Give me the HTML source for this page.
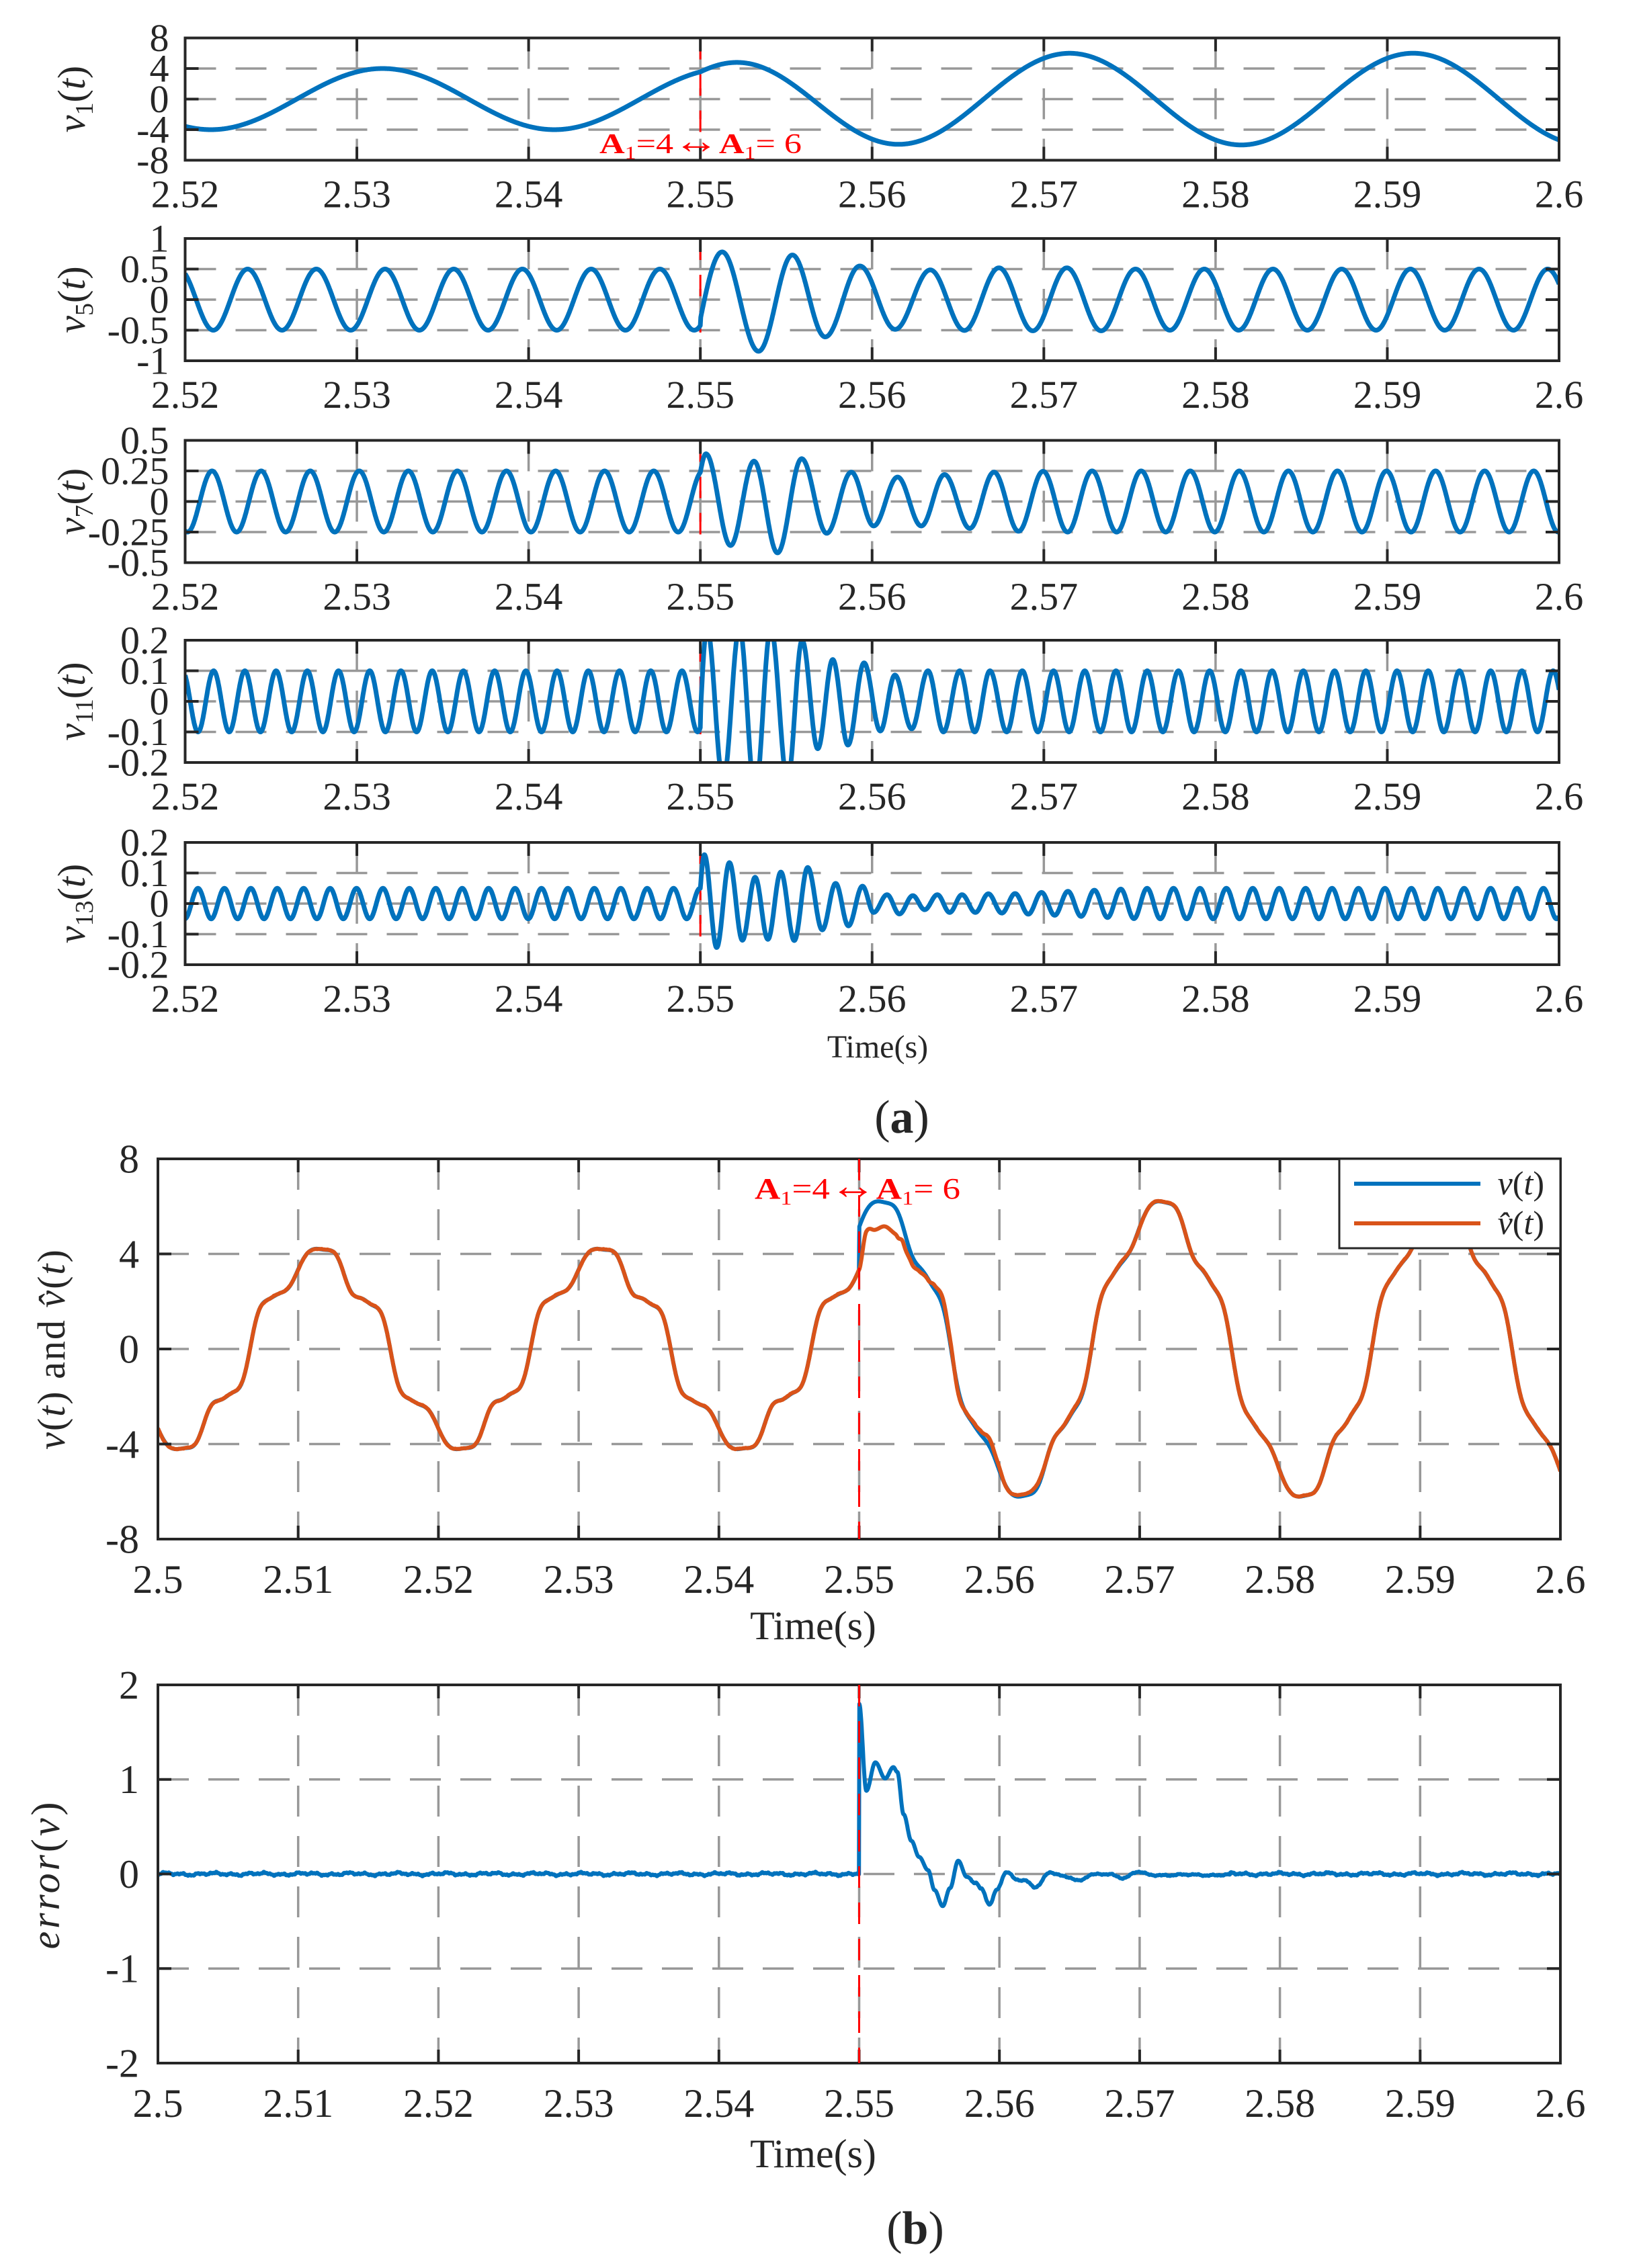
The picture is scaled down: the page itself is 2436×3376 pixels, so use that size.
<!DOCTYPE html>
<html><head><meta charset="utf-8">
<style>
html,body{margin:0;padding:0;background:#fff;}
svg{display:block;}
text{font-family:"Liberation Serif",serif;fill:#262626;}
</style></head>
<body>
<svg id="s" xmlns="http://www.w3.org/2000/svg" width="2436" height="3376" viewBox="0 0 2436 3376">
<rect width="2436" height="3376" fill="#fff"/>
<g id="g"></g>
</svg>
<script>
const NS="http://www.w3.org/2000/svg";
const G=document.getElementById('g');
function el(tag,attrs,parent,txt){const e=document.createElementNS(NS,tag);for(const k in attrs)e.setAttribute(k,attrs[k]);if(txt!==undefined)e.textContent=txt;(parent||G).appendChild(e);return e;}
const TP=2*Math.PI;
const v1b=t=>4*Math.cos(TP*50*(t-2.5315));
const v5b=t=>-0.5*Math.cos(TP*250*(t-2.52164));
const v7b=t=>-0.25*Math.cos(TP*350*(t-2.52014));
const v11b=t=>-0.1*Math.cos(TP*550*(t-2.52075));
const v13b=t=>-0.05*Math.cos(TP*650*(t-2.54921));
function mk(base,pts,conv,f,Afin,ramp){
  const L=pts.map(p=>[conv(p[0]),p[1]]);
  const t0=L[0][0],tl=L[L.length-1][0],vl=L[L.length-1][1];
  return t=>{
    if(t<t0)return base(t);
    if(t<=tl){
      for(let i=0;i<L.length-1;i++){
        if(t<=L[i+1][0]){const a=L[i],b=L[i+1];const s=(t-a[0])/(b[0]-a[0]);
          if(i===0)return a[1]+(b[1]-a[1])*Math.sin(Math.PI*s/2);
          return a[1]+(b[1]-a[1])*(1-Math.cos(Math.PI*s))/2;}
      }
    }
    const u=Math.min(1,(t-tl)/ramp);
    const A=Math.abs(vl)+(Afin-Math.abs(vl))*u;
    return Math.sign(vl)*A*Math.cos(TP*f*(t-tl));
  };
}
const c4=ox=>2.55+(ox-130)/76800;
const c5=ox=>2.55+(ox-113)/67000;
const c6=ox=>2.55+(ox-127)/54500;
const v1e=t=>t<2.55?v1b(t):(6-2*Math.exp(-(t-2.55)/0.0036))*Math.cos(TP*50*(t-2.5315));
const v5e=mk(v5b,[[113,-0.32],[198,0.78],[340,-0.845],[472,0.73],[600,-0.61],[735,0.55],[873,-0.486],[1010,0.486],[1143,-0.504],[1278,0.52],[1410,-0.51],[1543,0.52]],c5,250,0.5,0.004);
const v7e=mk(v7b,[[130,0.24],[155,0.39],[265,-0.36],[370,0.33],[475,-0.42],[583,0.35],[695,-0.26],[805,0.24],[905,-0.2],[1012,0.2],[1118,-0.2],[1222,0.22],[1335,-0.22],[1443,0.24]],c4,350,0.25,0.004);
const v11e=mk(v11b,[[130,-0.05],[160,0.24],[232,-0.26],[305,0.24],[375,-0.3],[445,0.24],[520,-0.26],[585,0.2],[655,-0.155],[722,0.137],[790,-0.143],[862,0.126],[935,-0.097],[1000,0.086],[1075,-0.09],[1148,0.1],[1217,-0.1],[1290,0.1],[1357,-0.1],[1425,0.1],[1500,-0.1]],c4,550,0.1,0.002);
const v13e=mk(v13b,[[130,0.05],[148,0.16],[203,-0.144],[260,0.134],[318,-0.12],[375,0.086],[432,-0.117],[490,0.103],[550,-0.121],[610,0.118],[675,-0.086],[735,0.066],[792,-0.073],[855,0.057],[905,-0.029],[965,0.029],[1020,-0.034],[1080,0.026],[1133,-0.02],[1190,0.029],[1245,-0.029],[1300,0.029],[1360,-0.029],[1418,0.032],[1478,-0.031]],c4,650,0.05,0.008);
const EP=[[127,1.8],[155,0.88],[190,1.18],[228,1.01],[260,1.13],[275,1.08],[300,0.63],[330,0.35],[360,0.18],[395,0.04],[420,-0.17],[452,-0.34],[480,-0.15],[512,0.14],[545,-0.03],[580,-0.09],[600,-0.15],[635,-0.32],[660,-0.18],[700,0.02],[740,-0.06],[770,-0.06],[810,-0.14],[870,0.01],[940,-0.03],[985,-0.07],[1030,-0.01],[1100,0.0],[1155,-0.04],[1210,0.02],[1260,-0.01],[1568,-0.01]].map(p=>[c6(p[0]),p[1]]);
function noise(t){return 0.008*Math.sin(t*5300)+0.005*Math.sin(t*13100+1)+0.004*Math.sin(t*29700+2)+0.008*Math.sin(t*1900+0.5);}
function err(t){
  if(t<2.55)return noise(t);
  const L=EP;
  if(t>L[L.length-1][0])return noise(t);
  for(let i=0;i<L.length-1;i++){if(t<=L[i+1][0]){const a=L[i],b=L[i+1];const s=(t-a[0])/(b[0]-a[0]);return a[1]+(b[1]-a[1])*(1-Math.cos(Math.PI*s))/2+(t>2.558?noise(t)*0.6:0);}}
  return 0;
}
const vtrue=t=>(t<2.55?4:6)*Math.cos(TP*50*(t-2.5315))+v5b(t)+v7b(t)+v11b(t)+v13b(t);
const vhat=t=>vtrue(t)-err(t);

let cid=0;
function panel(P){
  const {x0,x1,y0,y1,t0,t1,ymin,ymax,xt,yt,lw}=P;
  const X=t=>x0+(t-t0)/(t1-t0)*(x1-x0), Y=v=>y1-(v-ymin)/(ymax-ymin)*(y1-y0);
  xt.forEach(t=>{const x=X(t);if(Math.abs(x-x0)>2&&Math.abs(x-x1)>2)el('line',{x1:x,x2:x,y1:y0,y2:y1,stroke:'#989898','stroke-width':3.5,'stroke-dasharray':'46 29'});});
  yt.forEach(v=>{const y=Y(v);if(Math.abs(y-y0)>2&&Math.abs(y-y1)>2)el('line',{x1:x0,x2:x1,y1:y,y2:y,stroke:'#989898','stroke-width':3.5,'stroke-dasharray':'46 29'});});
  if(P.red){const x=X(2.55);el('line',{x1:x,x2:x,y1:y0,y2:y1,stroke:'#ff0000','stroke-width':3,'stroke-dasharray':'32 22'});}
  const id='c'+(cid++);
  const cp=el('clipPath',{id:id});el('rect',{x:x0,y:y0,width:x1-x0,height:y1-y0},cp);
  P.series.forEach(S=>{
    let d='';const N=Math.round((x1-x0)*1.5);
    for(let i=0;i<=N;i++){const t=t0+(t1-t0)*i/N;const v=S.f(t);d+=(i?'L':'M')+X(t).toFixed(1)+' '+Y(v).toFixed(1);}
    el('path',{d:d,fill:'none',stroke:S.c,'stroke-width':lw,'stroke-linejoin':'round','clip-path':'url(#'+id+')'});
  });
  el('rect',{x:x0,y:y0,width:x1-x0,height:y1-y0,fill:'none',stroke:'#262626','stroke-width':4});
  xt.forEach(t=>{const x=X(t);el('line',{x1:x,x2:x,y1:y1,y2:y1-20,stroke:'#262626','stroke-width':4});el('line',{x1:x,x2:x,y1:y0,y2:y0+20,stroke:'#262626','stroke-width':4});
    el('text',{x:x,y:y1+P.xlo,'font-size':P.fs,'text-anchor':'middle'},undefined,P.xl(t));});
  yt.forEach(v=>{const y=Y(v);el('line',{x1:x0,x2:x0+20,y1:y,y2:y,stroke:'#262626','stroke-width':4});el('line',{x1:x1,x2:x1-20,y1:y,y2:y,stroke:'#262626','stroke-width':4});
    el('text',{x:x0-P.ylo,y:y+P.fs*0.34,'font-size':P.fs,'text-anchor':'end'},undefined,P.yl(v));});
}
const fx2=t=>{let s=t.toFixed(2);return s.replace(/0$/,'').replace(/\.$/,'');};
const ta=[2.52,2.53,2.54,2.55,2.56,2.57,2.58,2.59,2.6];
const tops=[56.5,355,655.5,953,1254];
const cfg=[
 {f:v1e,ym:8,yt:[-8,-4,0,4,8],yl:v=>String(v),sub:'1'},
 {f:v5e,ym:1,yt:[-1,-0.5,0,0.5,1],yl:v=>String(v),sub:'5'},
 {f:v7e,ym:0.5,yt:[-0.5,-0.25,0,0.25,0.5],yl:v=>String(v),sub:'7'},
 {f:v11e,ym:0.2,yt:[-0.2,-0.1,0,0.1,0.2],yl:v=>String(v),sub:'11'},
 {f:v13e,ym:0.2,yt:[-0.2,-0.1,0,0.1,0.2],yl:v=>String(v),sub:'13'}];
cfg.forEach((c,i)=>{
  const y0=tops[i],y1=y0+182;
  panel({x0:275.5,x1:2320,y0:y0,y1:y1,t0:2.52,t1:2.6,ymin:-c.ym,ymax:c.ym,xt:ta,yt:c.yt,lw:7,red:true,
    series:[{f:c.f,c:'#0072BD'}],fs:58,xlo:70,ylo:24,xl:fx2,yl:c.yl});
  const tx=el('text',{transform:'translate(126,'+(y0+91)+') rotate(-90)','font-size':58,'text-anchor':'middle'});
  el('tspan',{'font-style':'italic'},tx,'v');
  el('tspan',{'font-size':38,dy:12},tx,c.sub);
  el('tspan',{dy:-12},tx,'(');
  el('tspan',{'font-style':'italic'},tx,'t');
  el('tspan',{},tx,')');
});
function annot(x,y,w,fs){
  const t=el('text',{x:x,y:y,'font-size':fs,fill:'#ff0000',textLength:w,lengthAdjust:'spacingAndGlyphs',style:'fill:#ff0000'});
  el('tspan',{'font-weight':'bold'},t,'A');el('tspan',{'font-size':fs*0.65,dy:fs*0.2},t,'1');
  el('tspan',{dy:-fs*0.2},t,'=4');el('tspan',{'font-size':fs*1.3,'font-weight':'bold'},t,'\u2194');
  el('tspan',{'font-weight':'bold'},t,'A');el('tspan',{'font-size':fs*0.65,dy:fs*0.2},t,'1');
  el('tspan',{dy:-fs*0.2},t,'= 6');
}
annot(892,228,301,42);
el('text',{x:1306,y:1574,'font-size':48,'text-anchor':'middle'},undefined,'Time(s)');
{const t=el('text',{x:1342,y:1686,'font-size':70,'text-anchor':'middle'});el('tspan',{},t,'(');el('tspan',{'font-weight':'bold'},t,'a');el('tspan',{},t,')');}
const tb=[2.5,2.51,2.52,2.53,2.54,2.55,2.56,2.57,2.58,2.59,2.6];
panel({x0:235,x1:2322,y0:1725,y1:2291,t0:2.5,t1:2.6,ymin:-8,ymax:8,xt:tb,yt:[-8,-4,0,4,8],lw:6,red:false,
  series:[{f:vtrue,c:'#0072BD'},{f:vhat,c:'#D95319'}],fs:60,xlo:80,ylo:28,xl:fx2,yl:v=>String(v)});
panel({x0:235,x1:2322,y0:2508,y1:3071,t0:2.5,t1:2.6,ymin:-2,ymax:2,xt:tb,yt:[-2,-1,0,1,2],lw:6,red:false,
  series:[{f:err,c:'#0072BD'}],fs:60,xlo:80,ylo:28,xl:fx2,yl:v=>String(v)});
{const x=1278.5;el('line',{x1:x,x2:x,y1:1725,y2:2291,stroke:'#ff0000','stroke-width':3,'stroke-dasharray':'32 22'});
 el('line',{x1:x,x2:x,y1:2508,y2:3071,stroke:'#ff0000','stroke-width':3,'stroke-dasharray':'32 22'});}
annot(1123,1784,306,44);
el('rect',{x:1993,y:1725,width:329,height:133,fill:'#fff',stroke:'#262626','stroke-width':3});
el('line',{x1:2015,x2:2203,y1:1762,y2:1762,stroke:'#0072BD','stroke-width':6});
el('line',{x1:2015,x2:2203,y1:1821,y2:1821,stroke:'#D95319','stroke-width':6});
{let t=el('text',{x:2298,y:1778,'font-size':50,'text-anchor':'end'});el('tspan',{'font-style':'italic'},t,'v');el('tspan',{},t,'(');el('tspan',{'font-style':'italic'},t,'t');el('tspan',{},t,')');
 t=el('text',{x:2298,y:1837,'font-size':50,'text-anchor':'end'});el('tspan',{'font-style':'italic'},t,'v\u0302');el('tspan',{},t,'(');el('tspan',{'font-style':'italic'},t,'t');el('tspan',{},t,')');}
{const t=el('text',{transform:'translate(96,2008) rotate(-90)','font-size':58,'text-anchor':'middle','letter-spacing':'2'});
 el('tspan',{'font-style':'italic'},t,'v');el('tspan',{},t,'(');el('tspan',{'font-style':'italic'},t,'t');el('tspan',{},t,') and ');
 el('tspan',{'font-style':'italic'},t,'v\u0302');el('tspan',{},t,'(');el('tspan',{'font-style':'italic'},t,'t');el('tspan',{},t,')');}
{const t=el('text',{transform:'translate(88,2790) rotate(-90)','font-size':60,'text-anchor':'middle','letter-spacing':'4'});
 el('tspan',{'font-style':'italic'},t,'error');el('tspan',{},t,'(');el('tspan',{'font-style':'italic'},t,'v');el('tspan',{},t,')');}
el('text',{x:1210,y:2440,'font-size':60,'text-anchor':'middle'},undefined,'Time(s)');
el('text',{x:1210,y:3226,'font-size':60,'text-anchor':'middle'},undefined,'Time(s)');
{const t=el('text',{x:1362,y:3340,'font-size':70,'text-anchor':'middle'});el('tspan',{},t,'(');el('tspan',{'font-weight':'bold'},t,'b');el('tspan',{},t,')');}
</script>
</body></html>
